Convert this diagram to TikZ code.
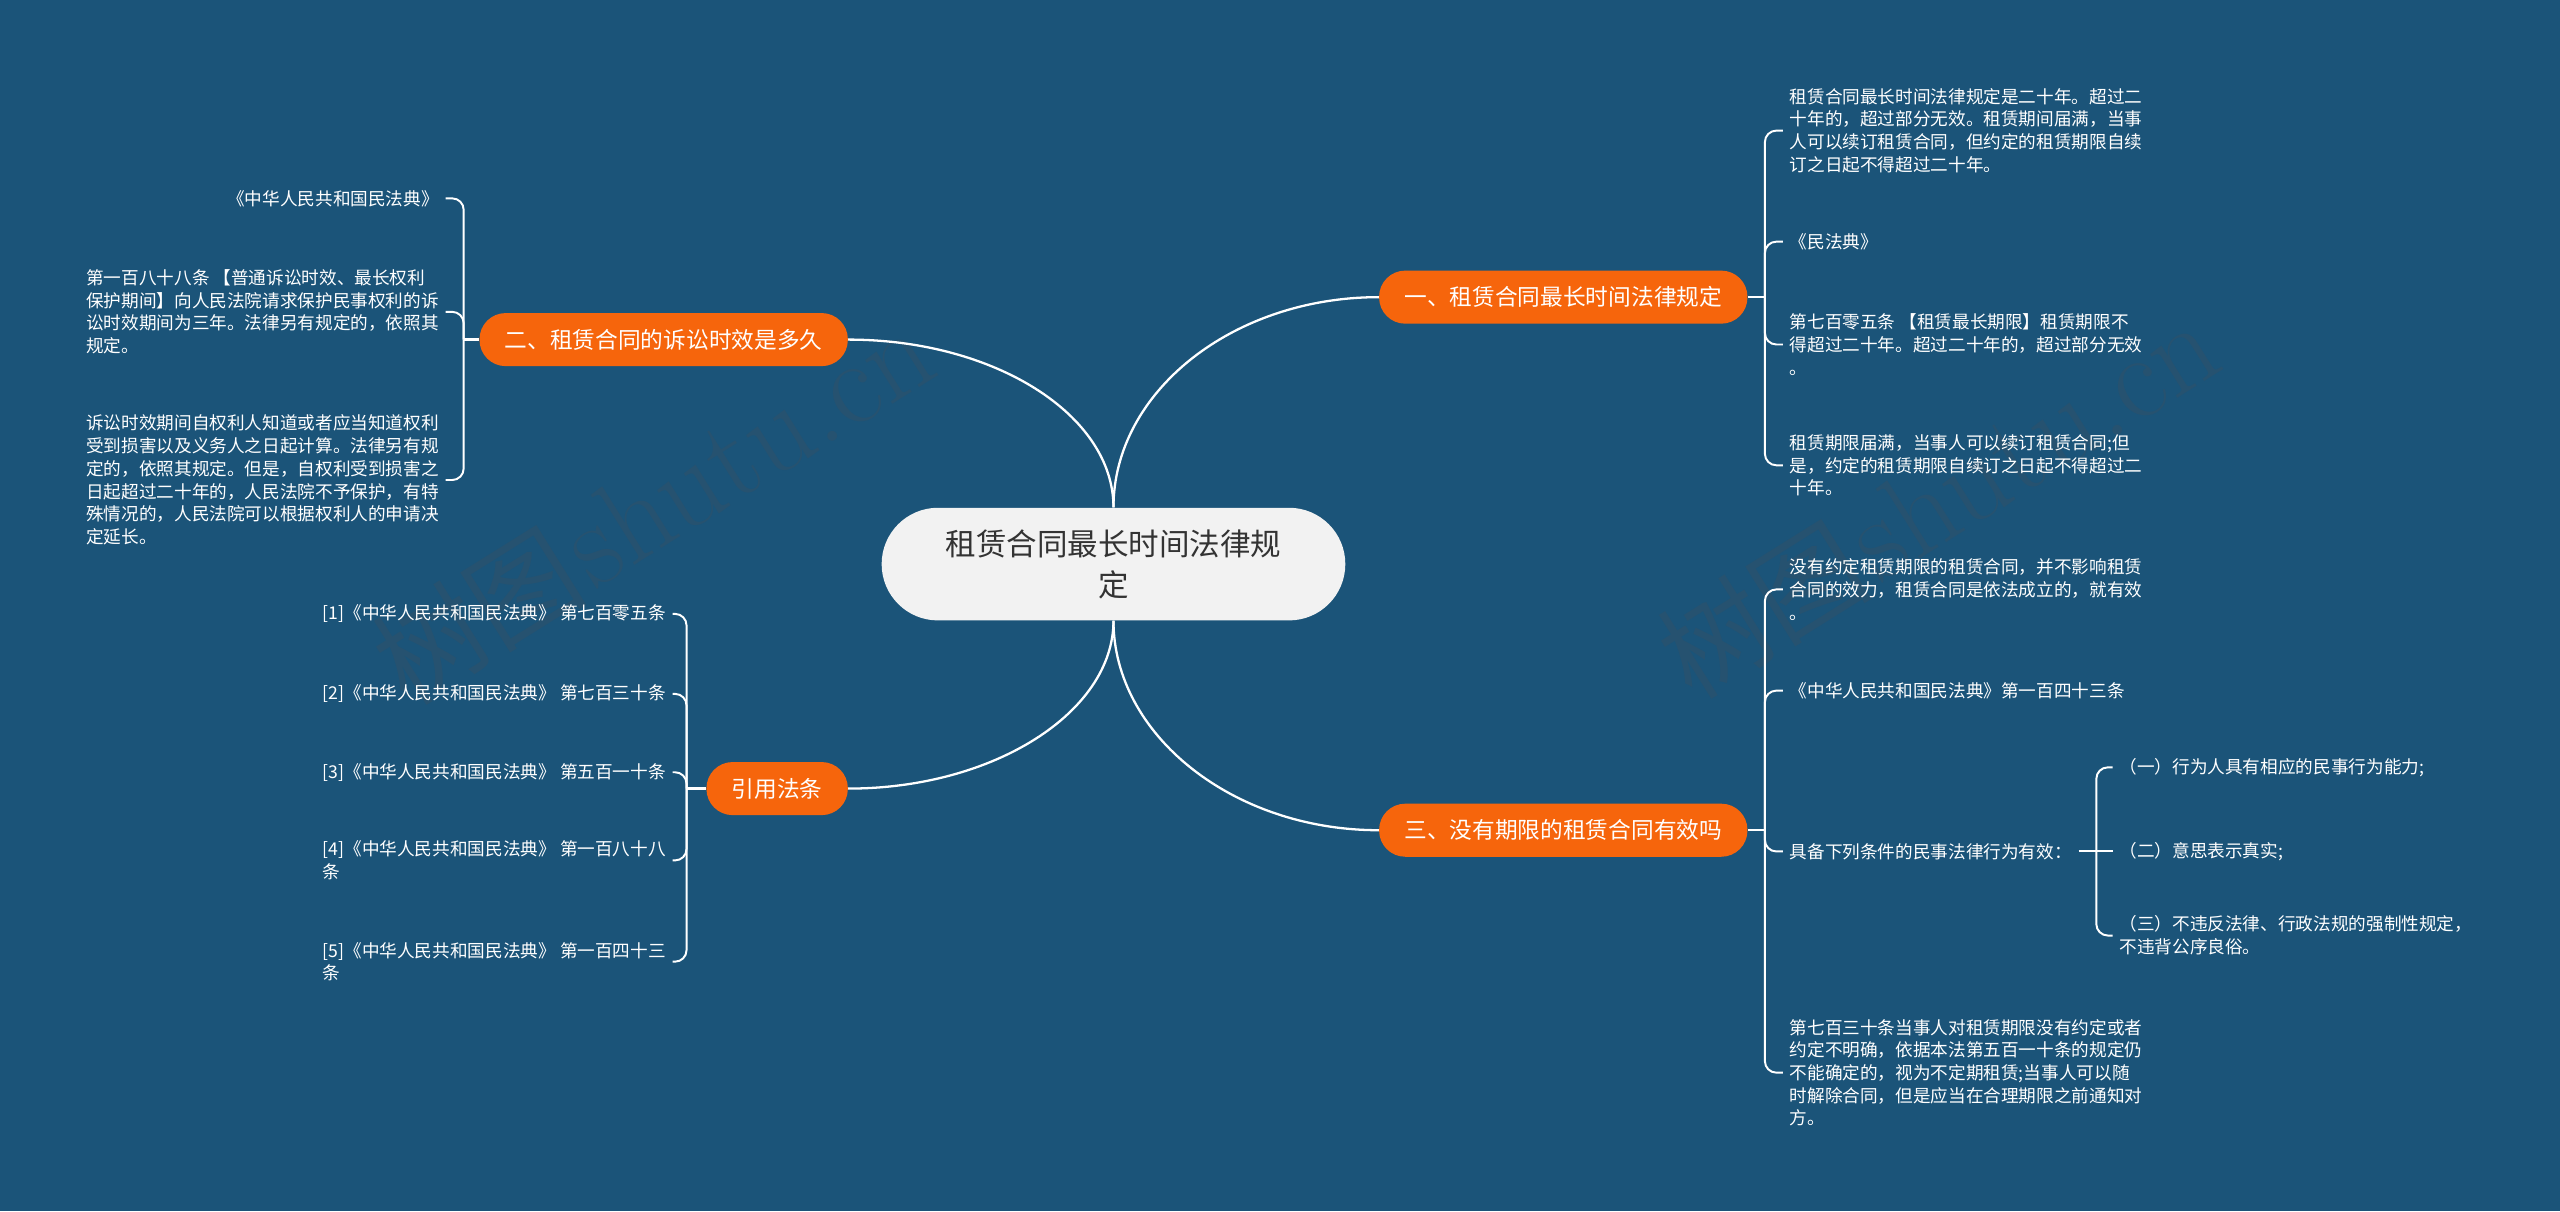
\documentclass[tikz,border=0pt]{standalone}
\usepackage{fontspec}
\newfontfamily\cjk{Noto Sans CJK SC}
\definecolor{bg}{RGB}{27,84,121}
\definecolor{orng}{RGB}{246,101,12}
\definecolor{rootfill}{RGB}{242,242,242}
\definecolor{roottext}{RGB}{51,51,51}
\definecolor{wm}{RGB}{38,82,112}
\tikzset{
  leaf/.style={font={\cjk\fontsize{10.8}{13.9}\selectfont}, text=white, align=left, inner xsep=4pt, inner ysep=0pt},
  branch/.style={font={\cjk\fontsize{13.9}{16}\selectfont}, text=white, fill=orng, rounded corners=16pt, minimum height=32.5pt, inner xsep=15.5pt, inner ysep=0pt},
  rootnode/.style={font={\cjk\fontsize{18.7}{25}\selectfont}, text=roottext, fill=rootfill, align=center, rounded corners=34.5pt, minimum height=69pt, minimum width=284pt, inner sep=0pt},
  link/.style={draw=white, line width=1.4pt},
  hook/.style={draw=white, line width=1.2pt, rounded corners=7pt},
  wmark/.style={text=wm, rotate=32, inner sep=0pt},
}
\begin{document}
\begin{tikzpicture}[x=1pt, y=-1pt]
\fill[bg] (0,0) rectangle (1568,742);
\useasboundingbox (0,0) rectangle (1568,742);

% watermarks
\node[wmark] (wm1) at (400,310) {{\cjk\fontsize{66}{66}\selectfont 树图} {\fontsize{74}{74}\selectfont shutu.cn}};
\node[wmark] (wm2) at (1187,306) {{\cjk\fontsize{66}{66}\selectfont 树图} {\fontsize{74}{74}\selectfont shutu.cn}};

% root and branches
\node[rootnode] (root) at (682,345.5) {租赁合同最长时间法律规\\定};
\node[branch] (b1) at (957.5,182) {一、租赁合同最长时间法律规定};
\node[branch] (b3) at (957.5,508.5) {三、没有期限的租赁合同有效吗};
\node[branch] (b2) at (406.5,208) {二、租赁合同的诉讼时效是多久};
\node[branch] (b4) at (476,483) {引用法条};

\draw[link] (root.north) .. controls (682,240) and (755,182) .. (b1.west);
\draw[link] (root.north) .. controls (682,254) and (609,208) .. (b2.east);
\draw[link] (root.south) .. controls (682,450) and (755,508.5) .. (b3.west);
\draw[link] (root.south) .. controls (682,436) and (609,483) .. (b4.east);

% branch 1 leaves
\node[leaf, anchor=west] (r1a) at (1092,80) {租赁合同最长时间法律规定是二十年。超过二\\十年的，超过部分无效。租赁期间届满，当事\\人可以续订租赁合同，但约定的租赁期限自续\\订之日起不得超过二十年。};
\node[leaf, anchor=west] (r1b) at (1092,148) {《民法典》};
\node[leaf, anchor=west] (r1c) at (1092,211) {第七百零五条 【租赁最长期限】租赁期限不\\得超过二十年。超过二十年的，超过部分无效\\。};
\node[leaf, anchor=west] (r1d) at (1092,285) {租赁期限届满，当事人可以续订租赁合同;但\\是，约定的租赁期限自续订之日起不得超过二\\十年。};
\coordinate (j1) at (1081,182);
\draw[link] (b1.east) -- (j1);
\foreach \n in {r1a,r1b,r1c,r1d} {\draw[hook] (j1) |- (\n.west);}

% branch 3 leaves
\node[leaf, anchor=west] (r3a) at (1092,361) {没有约定租赁期限的租赁合同，并不影响租赁\\合同的效力，租赁合同是依法成立的，就有效\\。};
\node[leaf, anchor=west] (r3b) at (1092,423) {《中华人民共和国民法典》第一百四十三条};
\node[leaf, anchor=west] (r3c) at (1092,521.5) {具备下列条件的民事法律行为有效：};
\node[leaf, anchor=west] (r3d) at (1092,657) {第七百三十条当事人对租赁期限没有约定或者\\约定不明确，依据本法第五百一十条的规定仍\\不能确定的，视为不定期租赁;当事人可以随\\时解除合同，但是应当在合理期限之前通知对\\方。};
\coordinate (j3) at (1081,508.5);
\draw[link] (b3.east) -- (j3);
\foreach \n in {r3a,r3b,r3c,r3d} {\draw[hook] (j3) |- (\n.west);}

% sub-leaves of r3c
\node[leaf, anchor=west] (s1) at (1294,470) {（一）行为人具有相应的民事行为能力;};
\node[leaf, anchor=west] (s2) at (1294,521.5) {（二）意思表示真实;};
\node[leaf, anchor=west] (s3) at (1294,573) {（三）不违反法律、行政法规的强制性规定，\\不违背公序良俗。};
\coordinate (js) at (1284,521.5);
\draw[hook] (r3c.east) -- (js);
\draw[hook] (js) |- (s1.west);
\draw[hook] (js) -- (s2.west);
\draw[hook] (js) |- (s3.west);

% branch 2 leaves
\node[leaf, anchor=east] (l2a) at (273,121.5) {《中华人民共和国民法典》};
\node[leaf, anchor=east] (l2b) at (273,191) {第一百八十八条 【普通诉讼时效、最长权利\\保护期间】向人民法院请求保护民事权利的诉\\讼时效期间为三年。法律另有规定的，依照其\\规定。};
\node[leaf, anchor=east] (l2c) at (273,294) {诉讼时效期间自权利人知道或者应当知道权利\\受到损害以及义务人之日起计算。法律另有规\\定的，依照其规定。但是，自权利受到损害之\\日起超过二十年的，人民法院不予保护，有特\\殊情况的，人民法院可以根据权利人的申请决\\定延长。};
\coordinate (j2) at (284,208);
\draw[link] (b2.west) -- (j2);
\foreach \n in {l2a,l2b,l2c} {\draw[hook] (j2) |- (\n.east);}

% branch 4 leaves
\node[leaf, anchor=east] (l4a) at (412,376) {[1]《中华人民共和国民法典》 第七百零五条};
\node[leaf, anchor=east] (l4b) at (412,425) {[2]《中华人民共和国民法典》 第七百三十条};
\node[leaf, anchor=east] (l4c) at (412,473) {[3]《中华人民共和国民法典》 第五百一十条};
\node[leaf, anchor=east] (l4d) at (412,527) {[4]《中华人民共和国民法典》 第一百八十八\\条};
\node[leaf, anchor=east] (l4e) at (412,589) {[5]《中华人民共和国民法典》 第一百四十三\\条};
\coordinate (j4) at (420.5,483);
\draw[link] (b4.west) -- (j4);
\foreach \n in {l4a,l4b,l4c,l4d,l4e} {\draw[hook] (j4) |- (\n.east);}
\end{tikzpicture}
\end{document}
